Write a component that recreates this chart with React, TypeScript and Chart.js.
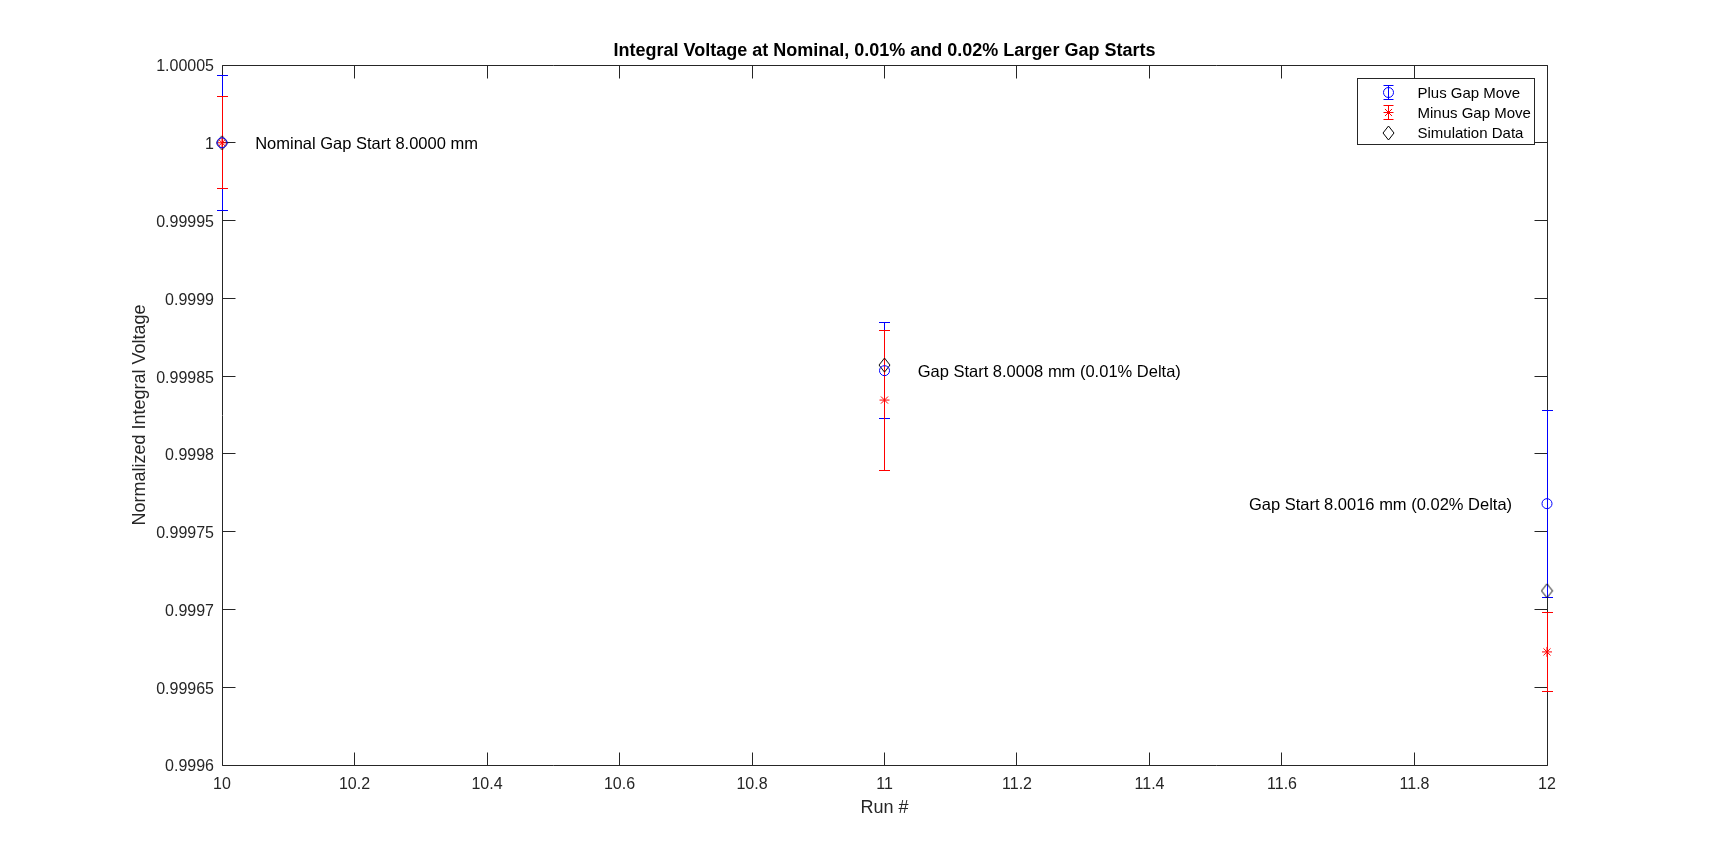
import React, { useEffect, useRef } from "react";
import { Chart, registerables } from "chart.js";

Chart.register(...registerables);

// ---------- data ----------
const runs = [10, 11, 12];
const plusGapMove = [1.0, 0.9998535, 0.999768];
const plusGapErr = [0.0000435, 0.000031, 0.00006];
const minusGapMove = [1.0, 0.9998346, 0.9996727];
const minusGapErr = [0.0000295, 0.000045, 0.0000254];
const simulationData = [1.0, 0.9998571, 0.999712];

const xTicks = [10, 10.2, 10.4, 10.6, 10.8, 11, 11.2, 11.4, 11.6, 11.8, 12];
const yTicks = [0.9996, 0.99965, 0.9997, 0.99975, 0.9998, 0.99985, 0.9999, 0.99995, 1, 1.00005];

const annotationX = [10.05, 11.05, 11.55];
const annotationY = [1.0, 0.9998535, 0.999768];
const annotationText = [
  "Nominal Gap Start 8.0000 mm",
  "Gap Start 8.0008 mm (0.01% Delta)",
  "Gap Start 8.0016 mm (0.02% Delta)",
];

const seriesLabels = ["Plus Gap Move", "Minus Gap Move", "Simulation Data"];
const chartTitle = "Integral Voltage at Nominal, 0.01% and 0.02% Larger Gap Starts";
const xTitle = "Run #";
const yTitle = "Normalized Integral Voltage";

// ---------- styles ----------
const FONT = "'Liberation Sans', Arial, Helvetica, sans-serif";
const AXIS = "#262626";
const BLUE = "#0000ff";
const RED = "#ff0000";

function makeDiamond(): HTMLCanvasElement {
  const c = document.createElement("canvas");
  c.width = 13;
  c.height = 16;
  const g = c.getContext("2d")!;
  g.strokeStyle = "#000";
  g.lineWidth = 1;
  g.beginPath();
  g.moveTo(6.5, 1);
  g.lineTo(12, 8);
  g.lineTo(6.5, 15);
  g.lineTo(1, 8);
  g.closePath();
  g.stroke();
  return c;
}

const errorSeries = [
  { values: plusGapMove, errs: plusGapErr, color: BLUE },
  { values: minusGapMove, errs: minusGapErr, color: RED },
];

function drawMarker(ctx: CanvasRenderingContext2D, style: any, x: number, y: number, r: number, color: string) {
  ctx.save();
  ctx.strokeStyle = color;
  ctx.lineWidth = 1;
  if (style instanceof HTMLCanvasElement) {
    ctx.drawImage(style, Math.round(x - style.width / 2), Math.round(y - style.height / 2));
  } else if (style === "circle") {
    ctx.beginPath();
    ctx.arc(x, y, r, 0, Math.PI * 2);
    ctx.stroke();
  } else if (style === "star") {
    ctx.beginPath();
    ctx.moveTo(x - r, y);
    ctx.lineTo(x + r, y);
    ctx.moveTo(x, y - r);
    ctx.lineTo(x, y + r);
    const d = r * Math.SQRT1_2;
    ctx.moveTo(x - d, y - d);
    ctx.lineTo(x + d, y + d);
    ctx.moveTo(x - d, y + d);
    ctx.lineTo(x + d, y - d);
    ctx.stroke();
  }
  ctx.restore();
}

const axesBoxPlugin = {
  id: "axesBox",
  beforeDatasetsDraw(chart: any) {
    const { ctx, chartArea: a, scales } = chart;
    const x = scales.x;
    const y = scales.y;
    const L = Math.floor(a.left) + 0.5;
    const R = Math.floor(a.right) + 0.5;
    const T = Math.floor(a.top) + 0.5;
    const B = Math.floor(a.bottom) + 0.5;
    const tl = 13;
    ctx.save();
    ctx.strokeStyle = AXIS;
    ctx.lineWidth = 1;
    ctx.beginPath();
    ctx.rect(L, T, R - L, B - T);
    xTicks.forEach((v) => {
      const px = Math.floor(x.getPixelForValue(v)) + 0.5;
      ctx.moveTo(px, B);
      ctx.lineTo(px, B - tl);
      ctx.moveTo(px, T);
      ctx.lineTo(px, T + tl);
    });
    yTicks.forEach((v) => {
      const py = Math.floor(y.getPixelForValue(v)) + 0.5;
      ctx.moveTo(L, py);
      ctx.lineTo(L + tl, py);
      ctx.moveTo(R, py);
      ctx.lineTo(R - tl, py);
    });
    ctx.stroke();

    // error bars
    const cap = 5.5;
    errorSeries.forEach((s) => {
      ctx.strokeStyle = s.color;
      ctx.beginPath();
      runs.forEach((r, i) => {
        const px = Math.floor(x.getPixelForValue(r)) + 0.5;
        const top = Math.floor(y.getPixelForValue(s.values[i] + s.errs[i])) + 0.5;
        const bot = Math.floor(y.getPixelForValue(s.values[i] - s.errs[i])) + 0.5;
        ctx.moveTo(px, top);
        ctx.lineTo(px, bot);
        ctx.moveTo(px - cap, top);
        ctx.lineTo(px + cap, top);
        ctx.moveTo(px - cap, bot);
        ctx.lineTo(px + cap, bot);
      });
      ctx.stroke();
    });
    ctx.restore();
  },
  afterDraw(chart: any) {
    const { ctx, chartArea: a, scales } = chart;
    const x = scales.x;
    const y = scales.y;
    ctx.save();
    // title
    ctx.fillStyle = "#000";
    ctx.font = `bold 18px ${FONT}`;
    ctx.textAlign = "center";
    ctx.textBaseline = "middle";
    ctx.fillText(chartTitle, (a.left + a.right) / 2, a.top - 14);

    // annotations
    ctx.font = `16.5px ${FONT}`;
    ctx.textAlign = "left";
    annotationText.forEach((t, i) => {
      ctx.fillText(t, x.getPixelForValue(annotationX[i]), y.getPixelForValue(annotationY[i]) + 2);
    });

    // legend
    const lw = 177;
    const lh = 66;
    const lx = Math.floor(a.right) - 13 - lw + 0.5;
    const ly = Math.floor(a.top) + 13 + 0.5;
    ctx.fillStyle = "#fff";
    ctx.fillRect(lx, ly, lw, lh);
    ctx.strokeStyle = AXIS;
    ctx.lineWidth = 1;
    ctx.strokeRect(lx, ly, lw, lh);
    ctx.font = `15px ${FONT}`;
    ctx.fillStyle = "#000";
    ctx.textBaseline = "middle";
    const datasets = chart.data.datasets;
    seriesLabels.forEach((lab, i) => {
      const cy = Math.floor(ly + 14 + i * 20) + 0.5;
      const mx = Math.floor(lx + 31) + 0.5;
      const ds = datasets[i];
      if (i < 2) {
        ctx.strokeStyle = i === 0 ? BLUE : RED;
        ctx.beginPath();
        ctx.moveTo(mx, cy - 7);
        ctx.lineTo(mx, cy + 7);
        ctx.moveTo(mx - 5, cy - 7);
        ctx.lineTo(mx + 5, cy - 7);
        ctx.moveTo(mx - 5, cy + 7);
        ctx.lineTo(mx + 5, cy + 7);
        ctx.stroke();
      }
      drawMarker(ctx, ds.pointStyle, mx, cy, ds.pointRadius, ds.borderColor);
      ctx.fillStyle = "#000";
      ctx.fillText(lab, lx + 60, ly + 15 + i * 20);
    });
    ctx.restore();
  },
};

export default function App() {
  const ref = useRef<HTMLCanvasElement | null>(null);

  useEffect(() => {
    document.body.style.margin = "0";
    const canvas = ref.current!;
    const diamond = makeDiamond();
    const chart = new Chart(canvas, {
      type: "scatter",
      data: {
        datasets: [
          {
            label: seriesLabels[0],
            data: runs.map((r, i) => ({ x: r, y: plusGapMove[i] })),
            pointStyle: "circle",
            pointRadius: 5,
            borderColor: BLUE,
            backgroundColor: "rgba(0,0,0,0)",
            borderWidth: 1,
            showLine: false,
            clip: false,
          },
          {
            label: seriesLabels[1],
            data: runs.map((r, i) => ({ x: r, y: minusGapMove[i] })),
            pointStyle: "star",
            pointRadius: 5,
            borderColor: RED,
            backgroundColor: RED,
            borderWidth: 1,
            showLine: false,
            clip: false,
          },
          {
            label: seriesLabels[2],
            data: runs.map((r, i) => ({ x: r, y: simulationData[i] })),
            pointStyle: diamond,
            pointRadius: 6,
            borderColor: "#000",
            backgroundColor: "rgba(0,0,0,0)",
            borderWidth: 1,
            showLine: false,
            clip: false,
          },
        ] as any,
      },
      options: {
        responsive: false,
        animation: false,
        events: [],
        layout: { padding: { left: 0, right: 163, top: 65, bottom: 0 } },
        plugins: {
          legend: { display: false },
          tooltip: { enabled: false },
          title: { display: false },
        },
        scales: {
          x: {
            type: "linear",
            min: 10,
            max: 12,
            afterBuildTicks: (s: any) => {
              s.ticks = xTicks.map((v) => ({ value: v }));
            },
            afterFit: (s: any) => {
              s.height = 96;
            },
            grid: { display: false, drawTicks: false },
            border: { display: false },
            ticks: {
              padding: 10,
              color: AXIS,
              font: { family: FONT, size: 16 },
              maxRotation: 0,
              autoSkip: false,
              callback: (v: any) => String(Number(Number(v).toFixed(1))),
            },
            title: {
              display: true,
              text: xTitle,
              color: AXIS,
              font: { family: FONT, size: 18 },
              padding: { top: 0, bottom: 42 },
            },
          },
          y: {
            type: "linear",
            min: 0.9996,
            max: 1.00005,
            afterBuildTicks: (s: any) => {
              s.ticks = yTicks.map((v) => ({ value: v }));
            },
            afterFit: (s: any) => {
              s.width = 222;
            },
            grid: { display: false, drawTicks: false },
            border: { display: false },
            ticks: {
              padding: 8,
              labelOffset: 2,
              color: AXIS,
              font: { family: FONT, size: 16 },
              autoSkip: false,
              callback: (v: any) => String(Number(Number(v).toFixed(5))),
            },
            title: {
              display: true,
              text: yTitle,
              color: AXIS,
              font: { family: FONT, size: 18 },
              padding: { top: 129, bottom: 0 },
            },
          },
        },
      } as any,
      plugins: [axesBoxPlugin],
    });
    return () => chart.destroy();
  }, []);

  return (
    <div style={{ position: "absolute", left: 0, top: 0, width: 1710, height: 861, background: "#fff" }}>
      <canvas ref={ref} width={1710} height={861} style={{ display: "block" }} />
    </div>
  );
}
